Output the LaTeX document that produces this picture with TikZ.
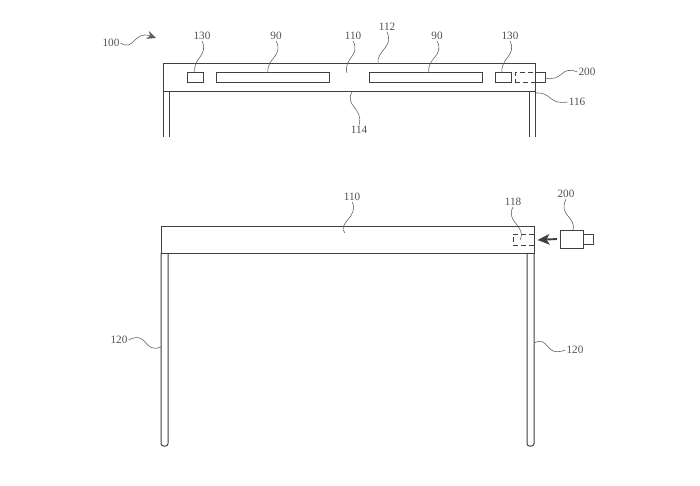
\documentclass[tikz,border=0pt]{standalone}
\usepackage{fontspec}
\setmainfont{Liberation Serif}
\usetikzlibrary{arrows.meta}
\definecolor{ink}{gray}{0.25}
\tikzset{
  x=1pt,y=-1pt,
  part/.style={draw=ink,line width=1pt,fill=white,rectangle,inner sep=0pt,outer sep=0pt,anchor=north west},
  hidden/.style={draw=ink,line width=1pt,dash pattern=on 5pt off 3pt,rectangle,inner sep=0pt,outer sep=0pt,anchor=north west},
  legline/.style={draw=ink,line width=1pt,rounded corners=2.5pt},
  leader/.style={draw=ink!85,line width=0.55pt},
  lab/.style={font=\fontsize{11.2}{12}\selectfont,text=black!68,inner sep=1pt},
}
\newcommand{\rbox}[6][part]{\node[#1,minimum width=#4pt-#2pt,minimum height=#5pt-#3pt] (#6) at (#2,#3) {};}
\begin{document}
\begin{tikzpicture}
\useasboundingbox[fill=white] (0,0) rectangle (700,486);
% upper view
\draw[legline,rounded corners=0pt] (163,92) -- (163,137) (169,92) -- (169,137) (529,92) -- (529,137) (535,92) -- (535,137);
\rbox{535}{73}{545}{83}{stub}
\rbox{163}{64}{535}{92}{topbar}
\rbox{187}{73}{203}{83}{sensorL}
\rbox{216}{73}{329}{83}{slotL}
\rbox{369}{73}{482}{83}{slotR}
\rbox{495}{73}{511}{83}{sensorR}
\rbox[hidden]{515}{73}{535}{83}{plugin}
\draw[ink,line width=1pt] (535,64) -- (535,92);
% lower view
\draw[legline] (161,253) -- (161,446) -- (168,446) -- (168,253);
\draw[legline] (527,253) -- (527,446) -- (534,446) -- (534,253);
\rbox{161}{226}{534}{253}{lowbar}
\rbox[hidden]{513}{234}{534}{245}{socket}
\draw[ink,line width=1pt] (534,226) -- (534,253);
\rbox{583}{234}{593}{244}{devstub}
\rbox{560}{230}{583}{248}{device}
\coordinate (arrowend) at (537.5,240);
\draw[ink,line width=1.9pt,-{Stealth[length=12pt,width=10.5pt,inset=3pt]}] (device.west -| 557,240) -- (arrowend);
% labels
\node[lab] (l100) at (111,43) {100};
\node[lab] (l130a) at (202,36) {130};
\node[lab] (l90a) at (276,36) {90};
\node[lab] (l110a) at (353,36) {110};
\node[lab] (l112) at (387,27) {112};
\node[lab] (l90b) at (437,36) {90};
\node[lab] (l130b) at (510,36) {130};
\node[lab] (l200a) at (587,72) {200};
\node[lab] (l116) at (577,102) {116};
\node[lab] (l114) at (359,130) {114};
\node[lab] (l110b) at (352,197) {110};
\node[lab] (l118) at (513,202) {118};
\node[lab] (l200b) at (566,194) {200};
\node[lab] (l120a) at (119,340) {120};
\node[lab] (l120b) at (575,350) {120};
% free ends
\coordinate (e100) at (156,38);
\coordinate (e110a) at (347,73);
\coordinate (e110b) at (345,233);
\coordinate (e114) at (352,92);
\coordinate (e116) at (536,93);
\coordinate (e118) at (520,240);
\coordinate (e120a) at (161,347);
\coordinate (e120b) at (534,343);
\coordinate (e112) at (378,64);
% leaders
\draw[leader,-{Stealth[length=9pt,width=8pt]}] (l100.east) .. controls (134,52) and (134,30) .. (e100);
\draw[leader] (l130a.south) .. controls (209,56) and (192,58) .. (sensorL.north);
\draw[leader] (l90a.south) .. controls (284,56) and (266,58) .. (slotL.north -| 268,73);
\draw[leader] (l110a.south) .. controls (361,56) and (343,58) .. (e110a);
\draw[leader] (l112.south) .. controls (394,48) and (376,50) .. (e112);
\draw[leader] (l90b.south) .. controls (445,56) and (426,58) .. (slotR.north -| 429,73);
\draw[leader] (l130b.south) .. controls (517,56) and (500,58) .. (sensorR.north -| 502,73);
\draw[leader] (stub.east) .. controls (564,82) and (560,65) .. (l200a.west);
\draw[leader] (e116) .. controls (552,92) and (548,105) .. (l116.west);
\draw[leader] (e114) .. controls (344,106) and (364,108) .. (l114.north);
\draw[leader] (e110b) .. controls (336,224) and (360,216) .. (l110b.south);
\draw[leader] (e118) .. controls (527,226) and (505,222) .. (l118.south);
\draw[leader] (device.north -| 573,230) .. controls (576,216) and (558,216) .. (l200b.south);
\draw[leader] (l120a.east) .. controls (148,330) and (143,354) .. (e120a);
\draw[leader] (e120b) .. controls (550,335) and (544,358) .. (l120b.west);
\end{tikzpicture}
\end{document}
